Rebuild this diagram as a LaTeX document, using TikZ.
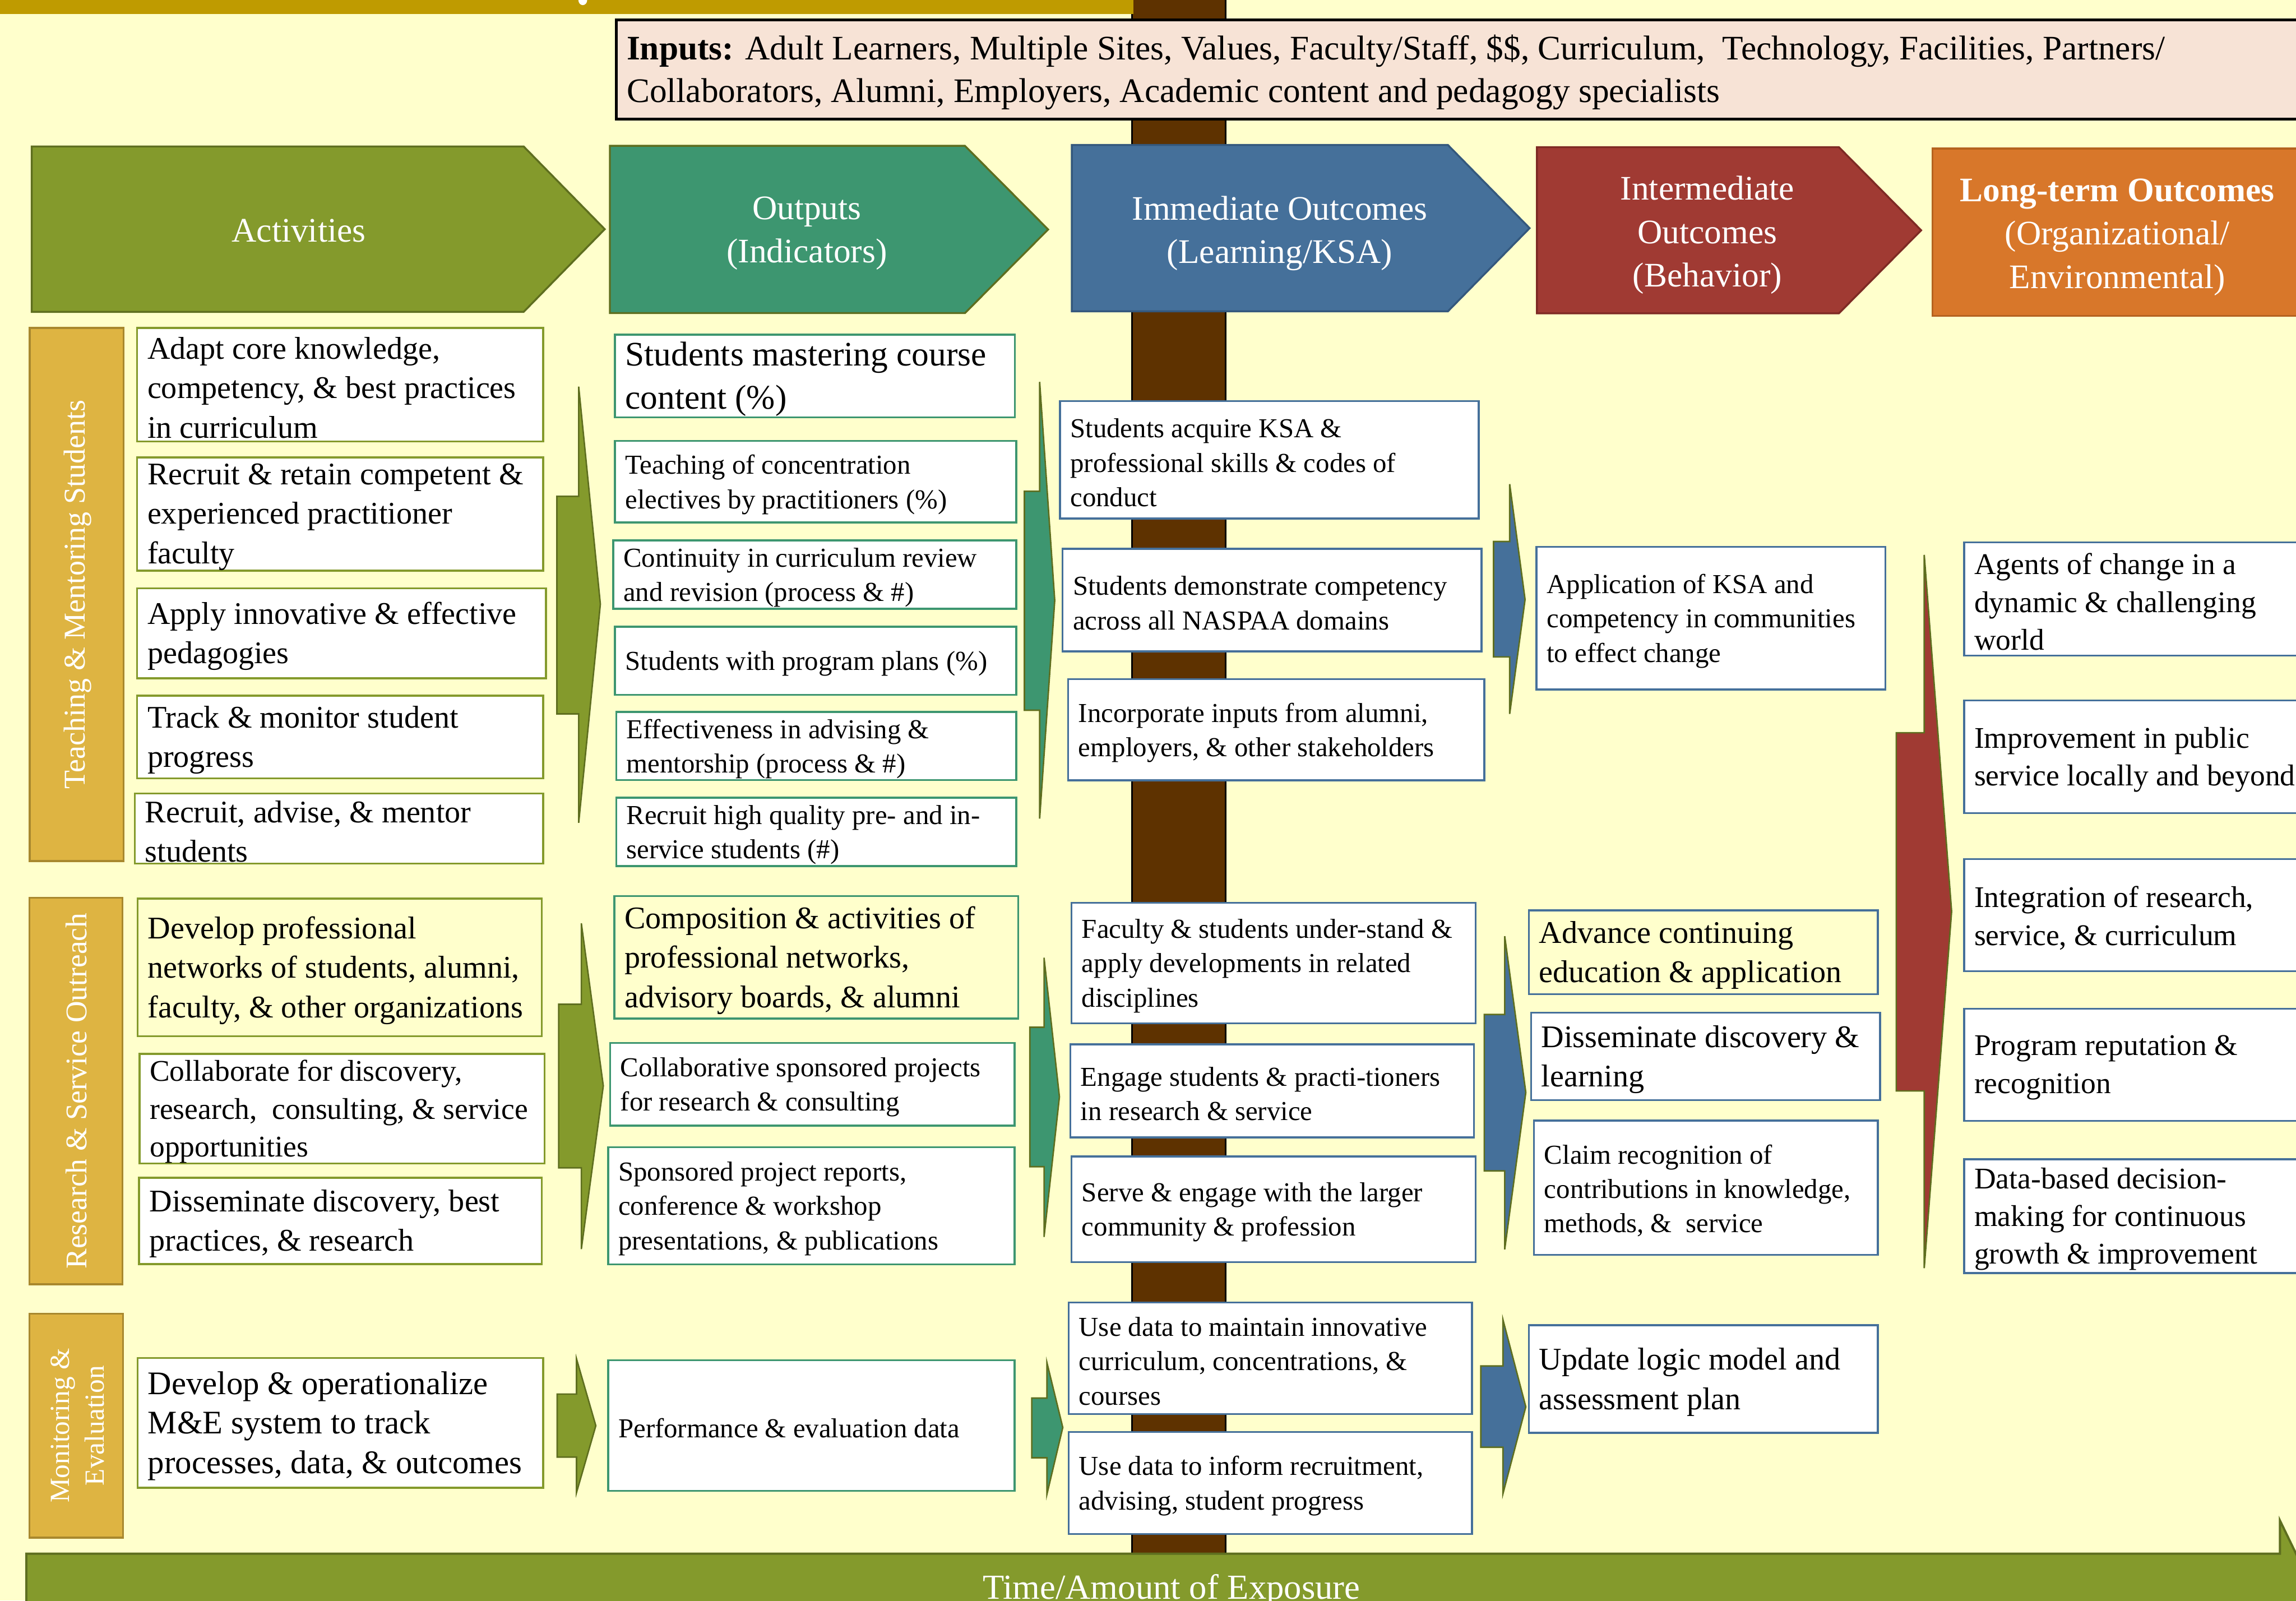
\documentclass[tikz,border=0pt]{standalone}
\usepackage{fontspec}
\setmainfont{Liberation Serif}
\definecolor{bgc}{HTML}{FFFFCC}
\definecolor{goldbar}{HTML}{BF9B00}
\definecolor{brownbar}{HTML}{5E3200}
\definecolor{inpfill}{HTML}{F7E3D6}
\definecolor{actg}{HTML}{849A2C}
\definecolor{actgd}{HTML}{5E6E1F}
\definecolor{outg}{HTML}{3D9670}
\definecolor{immb}{HTML}{45709A}
\definecolor{immbd}{HTML}{34587D}
\definecolor{intr}{HTML}{A03A33}
\definecolor{intrd}{HTML}{7E2A24}
\definecolor{lto}{HTML}{D8772A}
\definecolor{ltod}{HTML}{B5621F}
\definecolor{labf}{HTML}{DEB442}
\definecolor{labd}{HTML}{A8882E}
\definecolor{arrl}{HTML}{5E6E1F}

% box: name, box style, font style, x1, y1, x2, y2, text
\newcommand\mkbox[8]{%
  \pgfmathsetmacro\bxw{#6-#4}%
  \pgfmathsetmacro\bxh{#7-#5}%
  \pgfmathsetmacro\bxcx{(#4+#6)/2}%
  \pgfmathsetmacro\bxcy{(#5+#7)/2}%
  \node[#2, minimum width=\bxw pt, minimum height=\bxh pt] (#1) at (\bxcx,\bxcy) {};%
  \node[#3, anchor=west, align=left, inner sep=0pt] (#1t) at ([xshift=7pt,yshift=-2pt]#1.west) {#8};%
}
% block arrow: colour, xl, xs, xt, ytop, ybodytop, ybodybot, ybot, ytip
\newcommand\sarrow[9]{%
  \filldraw[fill=#1, draw=arrl, line width=1pt, line join=miter]
    (#2,#6) -- (#3,#6) -- (#3,#5) -- (#4,#9) -- (#3,#8) -- (#3,#7) -- (#2,#7) -- cycle;%
}
% header chevron: fill, draw, x1, ytop, xr, xtip, ybot
\newcommand\chev[7]{%
  \filldraw[fill=#1, draw=#2, line width=1.3pt]
    (#3,#4) -- (#5,#4) -- (#6,{(#4+#7)/2}) -- (#5,#7) -- (#3,#7) -- cycle;%
}

\begin{document}
\begin{tikzpicture}[x=1pt,y=-1pt,
  every node/.style={outer sep=0pt},
  wbox/.style={draw=#1, fill=white, line width=1.3pt, inner sep=0pt},
  ybox/.style={draw=#1, fill=bgc, line width=1.3pt, inner sep=0pt},
  fL/.style={font=\fontsize{21.5}{27}\selectfont},
  fM/.style={font=\fontsize{20.5}{25.8}\selectfont},
  fS/.style={font=\fontsize{18.7}{23.5}\selectfont},
  fH/.style={font=\fontsize{23.5}{29.5}\selectfont, text=white, align=center},
  labbox/.style={draw=labd, fill=labf, line width=1.3pt, inner sep=0pt},
  labtxt/.style={rotate=90, text=white, align=center}]

\useasboundingbox (0,0) rectangle (1568,1093);
\begin{scope}
\clip (0,0) rectangle (1568,1093);
\fill[bgc] (0,0) rectangle (1568,1093);

% vertical brown bar and title strip
\filldraw[fill=brownbar, draw=black, line width=1pt] (773,-5) rectangle (837,1062);
\fill[goldbar] (-5,-5) rectangle (774,9.5);
\fill[white] (398,0) ellipse (3pt and 3.5pt);

% inputs
\mkbox{inputs}{draw=black, fill=inpfill, line width=2pt, inner sep=0pt}{font=\fontsize{23.5}{29}\selectfont}{421}{13.5}{1590}{81.4}%
{\textbf{Inputs:} Adult Learners, Multiple Sites, Values, Faculty/Staff, \$\$, Curriculum,\ \ Technology, Facilities, Partners/\\Collaborators, Alumni, Employers, Academic content and pedagogy specialists}

% headers
\chev{actg}{actgd}{21.7}{100}{357.6}{413}{213}
\node[fH] (hact) at (204,157.5) {Activities};
\chev{outg}{actgd}{416.5}{99.6}{659}{715.8}{213.8}
\node[fH] (hout) at (551,159.5) {Outputs\\(Indicators)};
\chev{immb}{immbd}{732}{99}{988.8}{1044.6}{212.6}
\node[fH] (himm) at (874,159.5) {Immediate Outcomes\\(Learning/KSA)};
\chev{intr}{intrd}{1049.6}{100.5}{1255.8}{1312}{214}
\node[fH] (hint) at (1166,160.5) {Intermediate\\Outcomes\\(Behavior)};
\filldraw[fill=lto, draw=ltod, line width=1.3pt] (1319.7,101.5) rectangle (1590,215.6);
\node[fH] (hlt) at (1446,162) {\textbf{Long-term Outcomes}\\(Organizational/\\Environmental)};

% side labels
\node[labbox, minimum width=64pt, minimum height=364pt] (labT) at (52.3,406) {};
\node[labtxt, font=\fontsize{20.7}{25}\selectfont] (labTt) at (53,406) {Teaching \& Mentoring Students};
\node[labbox, minimum width=63.4pt, minimum height=264pt] (labR) at (51.9,745) {};
\node[labtxt, font=\fontsize{20.5}{25}\selectfont] (labRt) at (52,745) {Research \& Service Outreach};
\node[labbox, minimum width=63.8pt, minimum height=153pt] (labM) at (52.1,973.5) {};
\node[labtxt, font=\fontsize{18.9}{23.5}\selectfont] (labMt) at (53,973.5) {Monitoring \&\\Evaluation};

% activities
\mkbox{a1}{wbox=actg}{fL}{93.7}{224}{370.9}{301.5}{Adapt core knowledge,\\competency, \& best practices\\in curriculum}
\mkbox{a2}{wbox=actg}{fL}{93.7}{312.3}{371}{389.7}{Recruit \& retain competent \&\\experienced practitioner\\faculty}
\mkbox{a3}{wbox=actg}{fL}{93.7}{401.7}{372.8}{463.2}{Apply innovative \& effective\\pedagogies}
\mkbox{a4}{wbox=actg}{fL}{93.7}{475}{371}{531.5}{Track \& monitor student\\progress}
\mkbox{a5}{wbox=actg}{fL}{92}{541.9}{371}{589.6}{Recruit, advise, \& mentor\\students}
\mkbox{r1}{ybox=actg}{fL}{94}{613.6}{370}{707.6}{Develop professional\\networks of students, alumni,\\faculty, \& other organizations}
\mkbox{r2}{wbox=actg}{fM}{95.3}{719.7}{372}{794.4}{Collaborate for discovery,\\research,\ \ consulting, \& service\\opportunities}
\mkbox{r3}{wbox=actg}{fL}{95}{804.3}{370}{863.2}{Disseminate discovery, best\\practices, \& research}
\mkbox{m1}{wbox=actg}{font=\fontsize{22.5}{27}\selectfont}{94}{927.3}{371}{1016}{Develop \& operationalize\\M\&E system to track\\processes, data, \& outcomes}

% outputs
\mkbox{o1}{wbox=outg}{font=\fontsize{23.5}{29.5}\selectfont}{420}{228.6}{693}{285}{Students mastering course\\content (\%)}
\mkbox{o2}{wbox=outg}{fS}{420}{301}{694}{356.8}{Teaching of concentration\\electives by practitioners (\%)}
\mkbox{o3}{wbox=outg}{fS}{418.8}{369}{694}{415.7}{Continuity in curriculum review\\and revision (process \& \#)}
\mkbox{o4}{wbox=outg}{fS}{420}{428}{694}{474.6}{Students with program plans (\%)}
\mkbox{o5}{wbox=outg}{fS}{420.8}{486.2}{694}{532.6}{Effectiveness in advising \&\\mentorship (process \& \#)}
\mkbox{o6}{wbox=outg}{fS}{420.8}{544.8}{694}{591.4}{Recruit high quality pre- and in-\\service students (\#)}
\mkbox{o7}{ybox=outg}{fL}{419.5}{612}{695.3}{695.5}{Composition \& activities of\\professional networks,\\advisory boards, \& alumni}
\mkbox{o8}{wbox=outg}{fS}{416.7}{712.3}{692.9}{768.6}{Collaborative sponsored projects\\for research \& consulting}
\mkbox{o9}{wbox=outg}{fS}{415.3}{783.3}{692.9}{863.5}{Sponsored project reports,\\conference \& workshop\\presentations, \& publications}
\mkbox{o10}{wbox=outg}{fS}{415.3}{928.8}{692.9}{1018}{Performance \& evaluation data}

% immediate outcomes
\mkbox{i1}{wbox=immb}{fS}{723.9}{273.8}{1009.9}{354.1}{Students acquire KSA \&\\professional skills \& codes of\\conduct}
\mkbox{i2}{wbox=immb}{fS}{725.7}{374.8}{1011.8}{444.8}{Students demonstrate competency\\across all NASPAA domains}
\mkbox{i3}{wbox=immb}{fS}{729.5}{463.8}{1013.6}{532.9}{Incorporate inputs from alumni,\\employers, \& other stakeholders}
\mkbox{i4}{wbox=immb}{fS}{731.8}{616.4}{1007.7}{698.7}{Faculty \& students under-stand \&\\apply developments in related\\disciplines}
\mkbox{i5}{wbox=immb}{fS}{731}{713.2}{1006.5}{776.7}{Engage students \& practi-tioners\\in research \& service}
\mkbox{i6}{wbox=immb}{fS}{731.8}{789.7}{1007.7}{862}{Serve \& engage with the larger\\community \& profession}
\mkbox{i7}{wbox=immb}{fS}{729.8}{889.5}{1005.3}{965.6}{Use data to maintain innovative\\curriculum, concentrations, \&\\courses}
\mkbox{i8}{wbox=immb}{fS}{729.8}{977.9}{1005.3}{1047.5}{Use data to inform recruitment,\\advising, student progress}

% intermediate outcomes
\mkbox{n1}{wbox=immb}{fS}{1049.3}{373.4}{1287.6}{470.9}{Application of KSA and\\competency in communities\\to effect change}
\mkbox{n2}{ybox=immb}{fL}{1044}{621.7}{1282.4}{679}{Advance continuing\\education \& application}
\mkbox{n3}{wbox=immb}{fL}{1045.6}{691.6}{1284}{751.3}{Disseminate discovery \&\\learning}
\mkbox{n4}{wbox=immb}{fS}{1047.6}{765.2}{1282.4}{857}{Claim recognition of\\contributions in knowledge,\\methods, \&\ \ service}
\mkbox{n5}{wbox=immb}{fL}{1044}{905}{1282.4}{978.5}{Update logic model and\\assessment plan}

% long-term outcomes
\mkbox{l1}{wbox=immb}{fM}{1341.3}{370.4}{1590}{447.7}{Agents of change in a\\dynamic \& challenging\\world}
\mkbox{l2}{wbox=immb}{fM}{1341.3}{478.3}{1590}{555.3}{Improvement in public\\service locally and beyond}
\mkbox{l3}{wbox=immb}{fM}{1341.3}{586.6}{1590}{663.3}{Integration of research,\\service, \& curriculum}
\mkbox{l4}{wbox=immb}{fM}{1341.3}{688.8}{1590}{765.4}{Program reputation \&\\recognition}
\mkbox{l5}{wbox=immb}{fM}{1341.3}{791.7}{1590}{869.3}{Data-based decision-\\making for continuous\\growth \& improvement}

% block arrows
\sarrow{actg}{380.3}{395.2}{410}{264}{338.9}{487.5}{561.9}{412.5}
\sarrow{actg}{381.5}{397}{412}{630.5}{685.8}{797.5}{853}{741.5}
\sarrow{actg}{380.5}{393.7}{406.9}{927.9}{952}{995}{1019.3}{973.6}
\sarrow{outg}{699.6}{710}{720.3}{260.8}{335.5}{485}{559}{410}
\sarrow{outg}{703.3}{713}{723.5}{654}{701.5}{796.7}{844.7}{749}
\sarrow{outg}{704.6}{715}{725.8}{930.6}{954.7}{995.5}{1020.3}{974.8}
\sarrow{immb}{1020}{1031}{1041.5}{330.6}{369.8}{448.6}{487.5}{409.4}
\sarrow{immb}{1013.6}{1027.6}{1042}{639.3}{692.8}{799.6}{853.2}{746}
\sarrow{immb}{1011.3}{1026.4}{1042}{901.2}{932.8}{988.3}{1020}{960.7}
\sarrow{intr}{1295}{1314.1}{1332.8}{378.9}{500.4}{745}{866}{622.4}

% time arrow
\filldraw[fill=actg, draw=actgd, line width=1.5pt, line join=miter]
  (18,1061) -- (1557,1061) -- (1557,1038.3) -- (1616,1160) -- (18,1160) -- cycle;
\node[font=\fontsize{24}{29}\selectfont, text=white, anchor=base] (time) at (800,1092) {Time/Amount of Exposure};
\end{scope}
\end{tikzpicture}
\end{document}
